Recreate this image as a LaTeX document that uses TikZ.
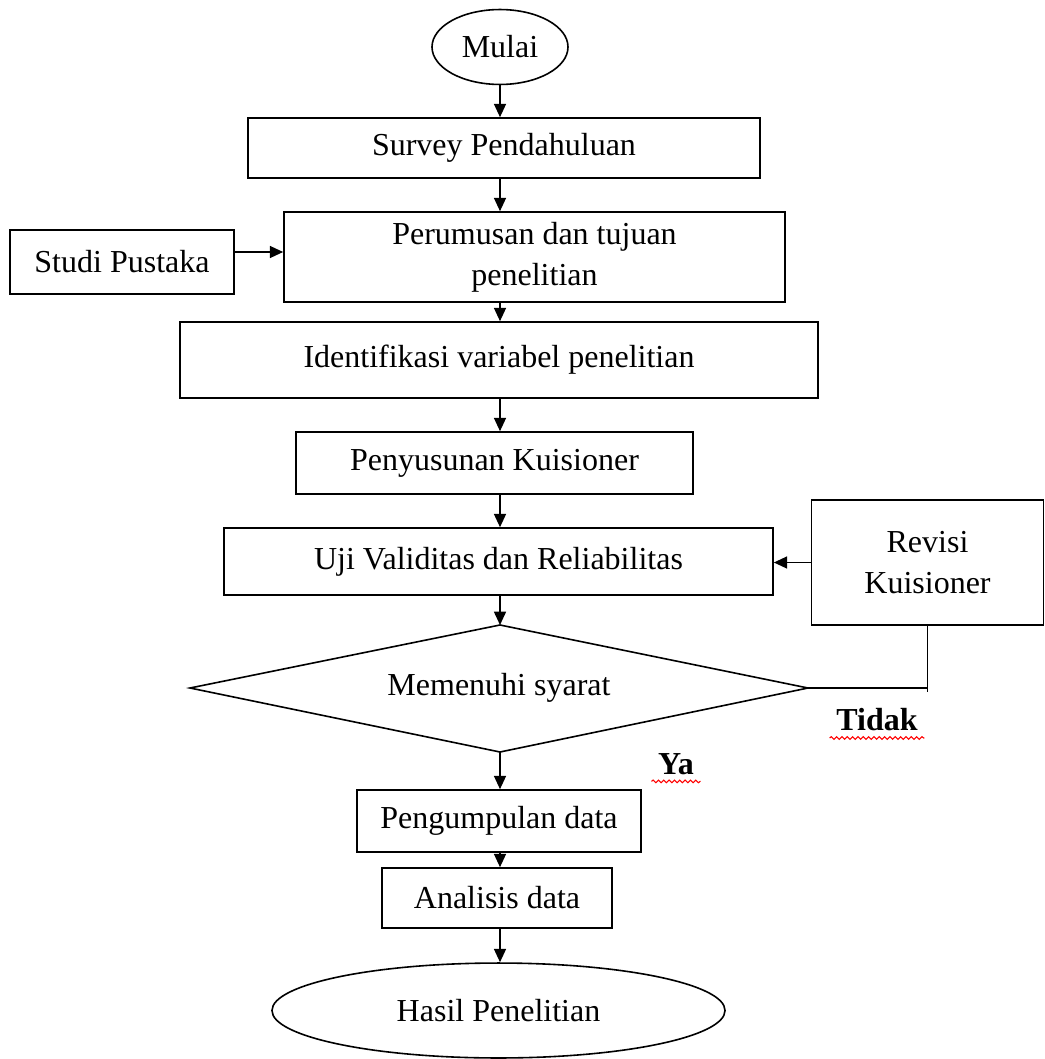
\documentclass[tikz,border=0pt]{standalone}
\usepackage{fontspec}
\setmainfont{Liberation Serif}
\usetikzlibrary{arrows.meta,shapes.geometric,decorations.pathmorphing}
\begin{document}
\begin{tikzpicture}[x=0.375pt,y=-0.375pt,
  every node/.style={font=\fontsize{12}{15.5}\selectfont},
  box/.style={draw,line width=0.6pt,inner sep=0pt,align=center},
  oval/.style={draw,ellipse,line width=0.6pt,inner sep=0pt,align=center},
  arr/.style={-{Triangle[length=5pt,width=4.5pt]},line width=0.6pt},
  ln/.style={line width=0.6pt},
  lbl/.style={font=\fontsize{12}{14}\selectfont\bfseries},
  spell/.style={red,line width=0.4pt,decorate,decoration={snake,amplitude=0.5pt,segment length=2pt}}]
\useasboundingbox (0,0) rectangle (1044,1059);
\coordinate (axis) at (500,0);
\node[oval,minimum width=51pt,minimum height=28.1pt] (mulai) at (500,47) {Mulai};
\node[box,minimum width=192pt,minimum height=22.5pt] (survey) at (504,148) {Survey Pendahuluan};
\node[box,minimum width=187.9pt,minimum height=33.75pt] (perumusan) at (534.5,257) {Perumusan dan tujuan\\penelitian};
\node[box,minimum width=84pt,minimum height=24pt] (studi) at (122,262) {Studi Pustaka};
\node[box,minimum width=239.25pt,minimum height=28.5pt] (ident) at (499,360) {Identifikasi variabel penelitian};
\node[box,minimum width=148.9pt,minimum height=23.25pt] (penyusun) at (494.5,463) {Penyusunan Kuisioner};
\node[box,minimum width=205.9pt,minimum height=25.1pt] (uji) at (498.5,561.5) {Uji Validitas dan Reliabilitas};
\node[box,minimum width=87pt,minimum height=46.9pt] (revisi) at (927.5,562.5) {Revisi\\Kuisioner};
% decision diamond
\coordinate (dtop) at (500,625);
\coordinate (dright) at (808,688);
\coordinate (dbot) at (500,752);
\coordinate (dleft) at (190,688);
\draw[ln] (dtop) -- (dright) -- (dbot) -- (dleft) -- cycle;
\node (dia) at (499,688) {Memenuhi syarat};
\node[box,minimum width=106.5pt,minimum height=23.25pt] (kumpul) at (499,821) {Pengumpulan data};
\node[box,minimum width=86.25pt,minimum height=22.5pt] (analisis) at (497,898) {Analisis data};
\node[oval,minimum width=169.9pt,minimum height=35.6pt] (hasil) at (498.5,1010.5) {Hasil Penelitian};
\node[lbl] (tidak) at (877,720) {Tidak};
\node[lbl] (ya) at (676,764) {Ya};
\draw[spell] ([yshift=1pt,xshift=1pt]tidak.south west) -- ([yshift=1pt,xshift=-1pt]tidak.south east);
\draw[spell] ([yshift=1pt,xshift=1pt]ya.south west) -- ([yshift=1pt,xshift=-1pt]ya.south east);
\draw[arr] (mulai.south) -- (axis |- survey.north);
\draw[arr] (axis |- survey.south) -- (axis |- perumusan.north);
\draw[arr] (axis |- perumusan.south) -- (axis |- ident.north);
\draw[arr] (axis |- ident.south) -- (axis |- penyusun.north);
\draw[arr] (axis |- penyusun.south) -- (axis |- uji.north);
\draw[arr] (axis |- uji.south) -- (dtop);
\draw[arr] (dbot) -- (axis |- kumpul.north);
\draw[arr] (axis |- kumpul.south) -- (axis |- analisis.north);
\draw[arr] (axis |- analisis.south) -- (axis |- hasil.north);
\draw[arr] ([yshift=3.75pt]studi.east) -- ([yshift=3.75pt]studi.east -| perumusan.west);
\draw[arr] (revisi.west) -- (revisi.west -| uji.east);
\draw[ln] (dright) -- (dright -| revisi.south);
\draw[ln] (revisi.south) -- ([yshift=-1.5pt]dright -| revisi.south);
\end{tikzpicture}
\end{document}
